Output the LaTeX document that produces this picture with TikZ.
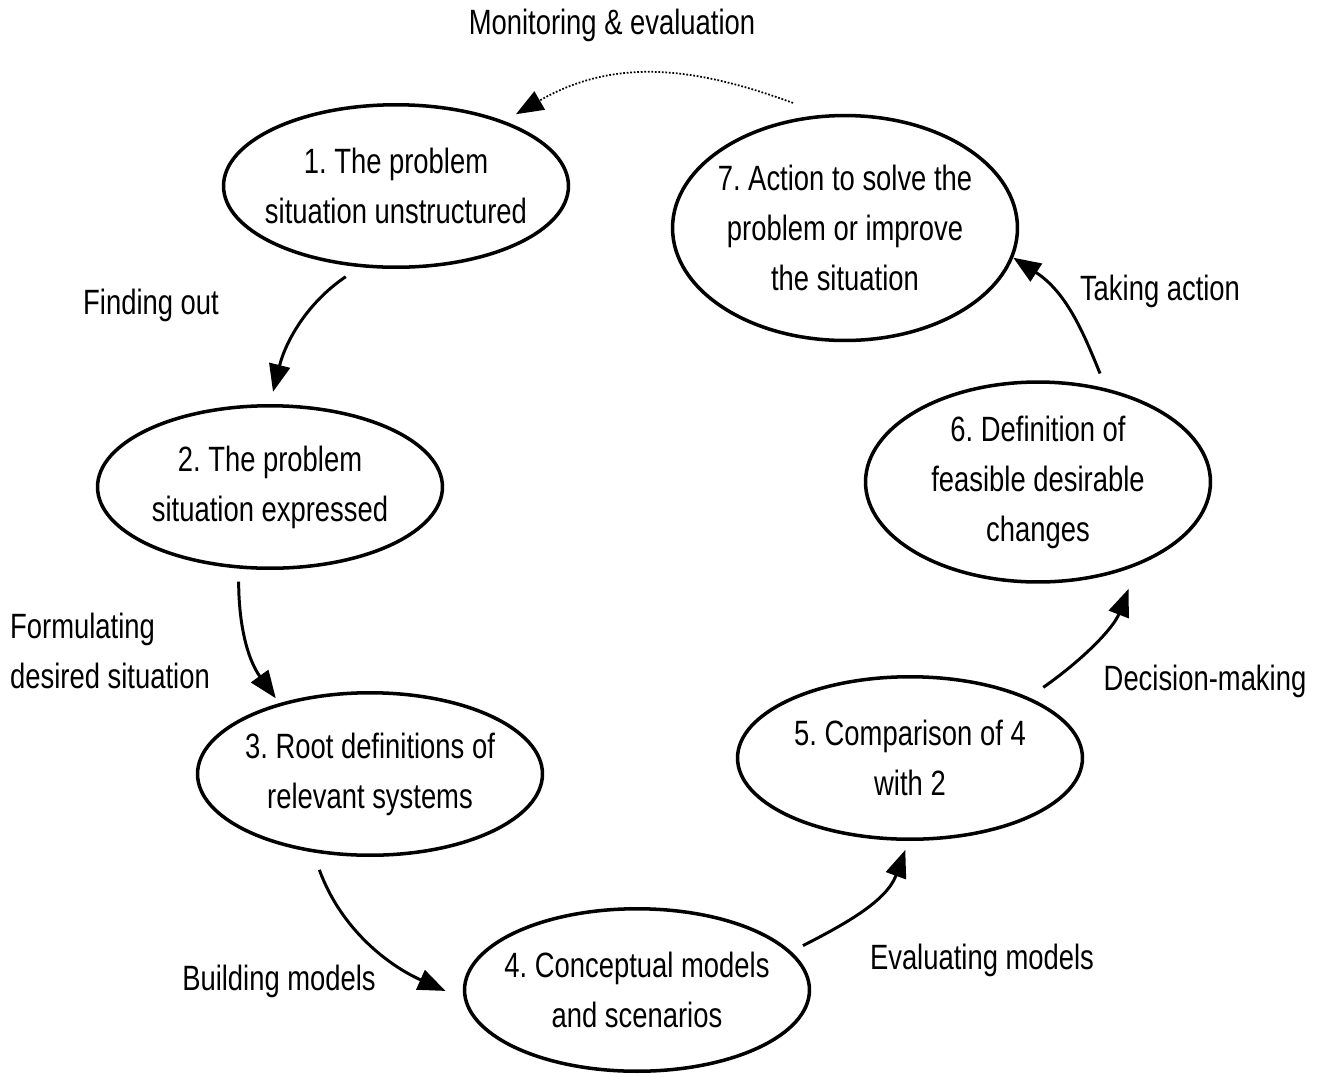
\documentclass[tikz,border=0pt]{standalone}
\usepackage{fontspec}
\setmainfont{Liberation Sans}[FakeStretch=0.78]
\usetikzlibrary{shapes.geometric,arrows.meta}
\frenchspacing
\begin{document}
\begin{tikzpicture}[
x=0.02cm, y=0.02cm,
every node/.style={font=\fontsize{20}{28.5}\selectfont, align=center},
stage/.style={ellipse, draw, line width=2pt, inner xsep=-0.4cm, inner ysep=0pt, minimum width=6.9cm, minimum height=3.25cm},
flow/.style={line width=1.7pt, -{Triangle[length=5.5mm,width=4.2mm]}}
]
\useasboundingbox (0,0) rectangle (1323,-1076);
% stages
\node[stage] (s1) at (396,-186) {1. The problem\\situation unstructured};
\node[stage] (s2) at (270,-487) {2. The problem\\situation expressed};
\node[stage] (s3) at (370,-774) {3. Root definitions of\\relevant systems};
\node[stage] (s4) at (637,-990) {4. Conceptual models\\and scenarios};
\node[stage] (s5) at (910,-758) {5. Comparison of 4\\with 2};
\node[stage, minimum height=4cm] (s6) at (1038,-482) {6. Definition of\\feasible desirable\\changes};
\node[stage, minimum height=4.5cm] (s7) at (845,-228) {7. Action to solve the\\problem or improve\\the situation};
% activities
\node (mon) at (612,-25) {Monitoring \& evaluation};
\node (find) at (151,-305) {Finding out};
\node[anchor=west, align=left] (form) at (4,-651) {Formulating\\desired situation};
\node (build) at (279,-981) {Building models};
\node (eval) at (982,-960) {Evaluating models};
\node (dec) at (1205,-681) {Decision-making};
\node (take) at (1160,-291) {Taking action};
% cycle
\draw[flow, shorten <=0.34cm, shorten >=0.25cm] (s1.246) to[out=214, in=76] (s2.90);
\draw[flow, shorten <=0.26cm, shorten >=0.12cm] (s2.249) to[out=270, in=126] (s3.142);
\draw[flow, shorten <=0.37cm, shorten >=0.4cm] (s3.234) to[out=290, in=156] (s4.183);
\draw[flow, shorten <=0.26cm, shorten >=0.19cm] (s4.14) to[out=27, in=250] (s5.269);
\draw[flow, shorten <=0.35cm, shorten >=0.5cm] (s5.27) to[out=35, in=249] (s6.320);
\draw[flow, shorten <=0.32cm] (s6.54) to[out=112, in=327] (s7.350);
\draw[flow, line width=1pt, densely dotted, shorten <=0.68cm, shorten >=0.27cm] (s7.100) to[out=160, in=30, looseness=1.05] (s1.31);
\end{tikzpicture}
\end{document}
